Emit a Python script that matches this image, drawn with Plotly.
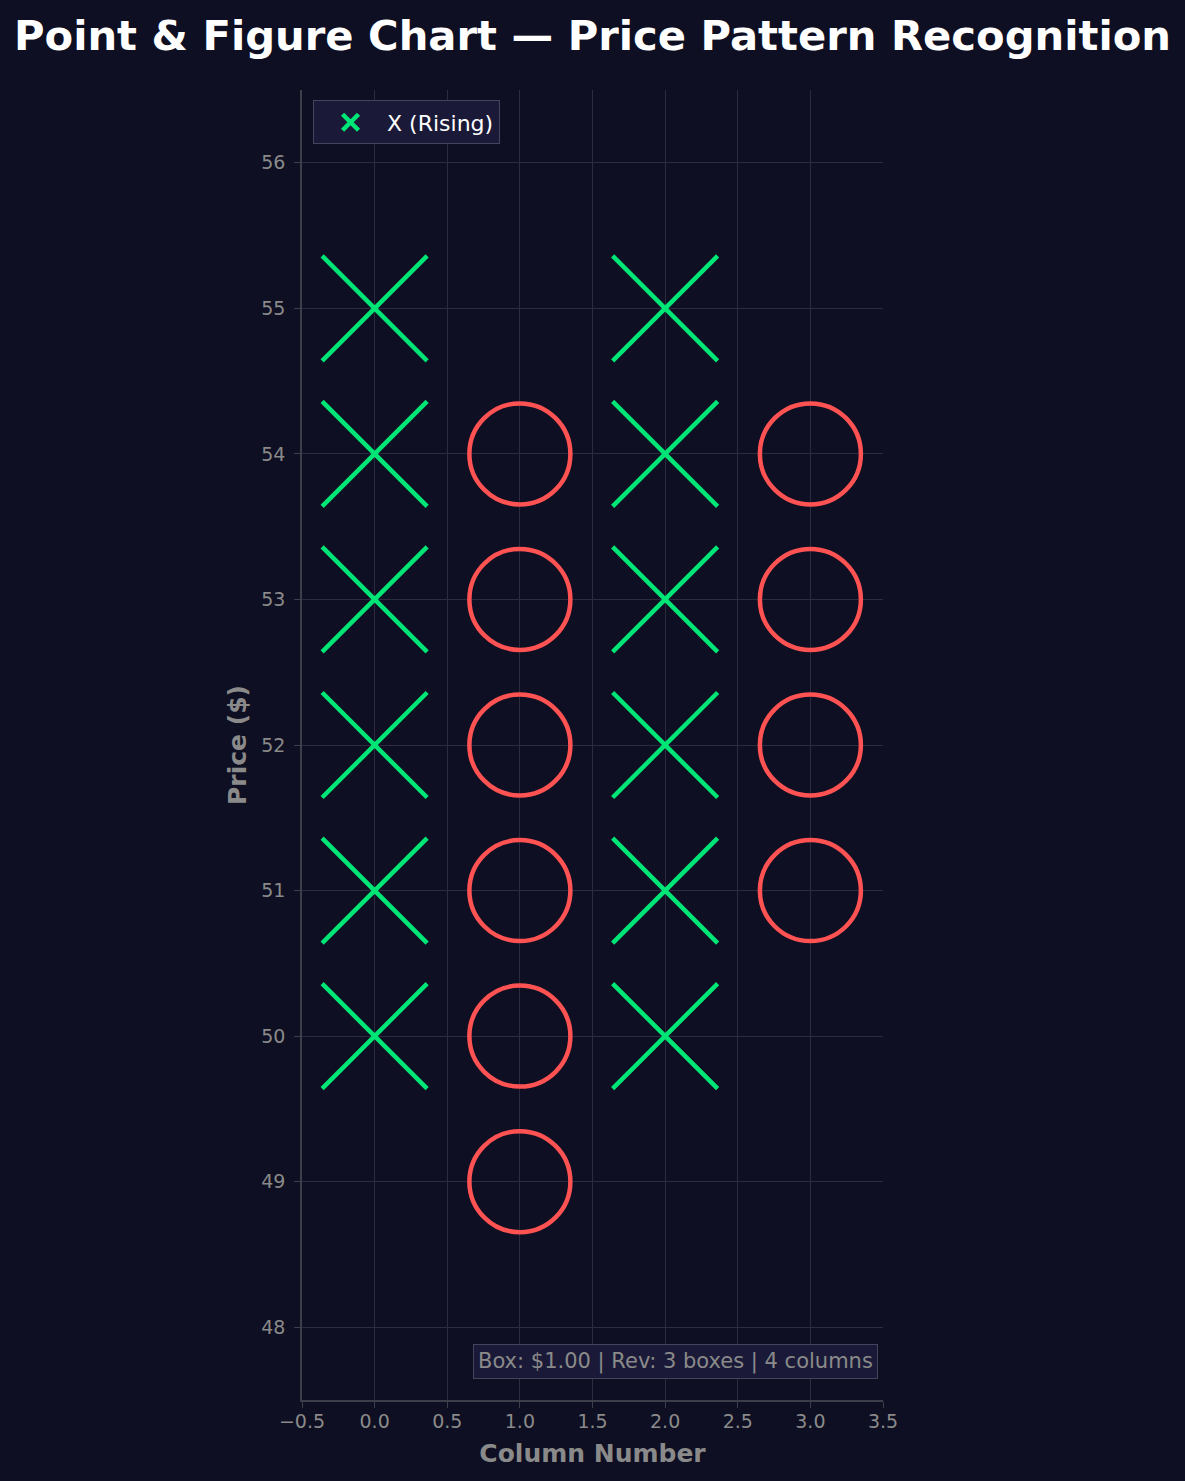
import plotly.graph_objects as go

# Point & Figure columns (column index, box price)
x_cols = [0, 0, 0, 0, 0, 0, 2, 2, 2, 2, 2, 2]
x_prices = [50, 51, 52, 53, 54, 55, 50, 51, 52, 53, 54, 55]
o_cols = [1, 1, 1, 1, 1, 1, 3, 3, 3, 3]
o_prices = [49, 50, 51, 52, 53, 54, 51, 52, 53, 54]

x_ticks = [-0.5, 0.0, 0.5, 1.0, 1.5, 2.0, 2.5, 3.0, 3.5]
x_ticklabels = ["\u22120.5", "0.0", "0.5", "1.0", "1.5", "2.0", "2.5", "3.0", "3.5"]
y_ticks = [48, 49, 50, 51, 52, 53, 54, 55, 56]

BG = "#0e0f22"
GREEN = "#00e676"
RED = "#ff5252"
GRID = "#2c2c3e"
SPINE = "#3e3e4a"
MUTED = "#8a8a8a"
FONT = "DejaVu Sans"

fig = go.Figure()

fig.add_trace(go.Scatter(
    x=x_cols, y=x_prices,
    mode="markers",
    name="X (Rising)",
    marker=dict(symbol="x-thin", size=105, color=GREEN,
                line=dict(color=GREEN, width=4.5)),
))

fig.add_trace(go.Scatter(
    x=o_cols, y=o_prices,
    mode="markers",
    name="O (Falling)",
    showlegend=False,
    marker=dict(symbol="circle-open", size=101, color=RED,
                line=dict(color=RED, width=4.5)),
))

fig.update_layout(
    width=1185, height=1481,
    paper_bgcolor=BG, plot_bgcolor=BG,
    margin=dict(l=302, r=302, t=90, b=81),
    font=dict(family=FONT, color=MUTED),
    title=dict(
        text="<b>Point & Figure Chart \u2014 Price Pattern Recognition</b>",
        font=dict(family=FONT, size=41.7, color="white"),
        x=0.5, xanchor="center", xref="paper",
        y=1 - 35 / 1481, yanchor="middle",
    ),
    legend=dict(
        x=0.019, y=0.992, xanchor="left", yanchor="top",
        bgcolor="#1a1a38", bordercolor="#44445a", borderwidth=1,
        font=dict(family=FONT, size=22, color="white"),
        itemwidth=63,
    ),
    showlegend=True,
)

fig.update_xaxes(
    range=[-0.5, 3.5],
    tickvals=x_ticks, ticktext=x_ticklabels,
    showgrid=True, gridcolor=GRID, gridwidth=1,
    zeroline=False,
    showline=True, linecolor=SPINE, linewidth=1.5,
    ticks="outside", ticklen=6, tickcolor=SPINE,
    ticklabelstandoff=-3,
    tickfont=dict(family=FONT, size=19, color=MUTED),
    title=dict(text="<b>Column Number</b>", standoff=14,
               font=dict(family=FONT, size=25, color=MUTED)),
)

fig.update_yaxes(
    range=[47.5, 56.5],
    tickvals=y_ticks,
    showgrid=True, gridcolor=GRID, gridwidth=1,
    zeroline=False,
    showline=True, linecolor=SPINE, linewidth=1.5,
    ticks="outside", ticklen=6, tickcolor=SPINE,
    ticklabelstandoff=5,
    tickfont=dict(family=FONT, size=19, color=MUTED),
    title=dict(text="<b>Price ($)</b>", standoff=8,
               font=dict(family=FONT, size=25, color=MUTED)),
)

fig.add_annotation(
    text="Box: $1.00 | Rev: 3 boxes | 4 columns",
    xref="paper", yref="paper",
    x=0.992, y=0.016, xanchor="right", yanchor="bottom",
    showarrow=False,
    font=dict(family=FONT, size=21, color=MUTED),
    bgcolor="#1a1a38", bordercolor="#44445a", borderwidth=1, borderpad=4,
)

fig.write_html(
    "out.html",
    config={"displayModeBar": False},
    post_script="document.body.style.margin='0';document.body.style.background='#0e0f22';",
)
